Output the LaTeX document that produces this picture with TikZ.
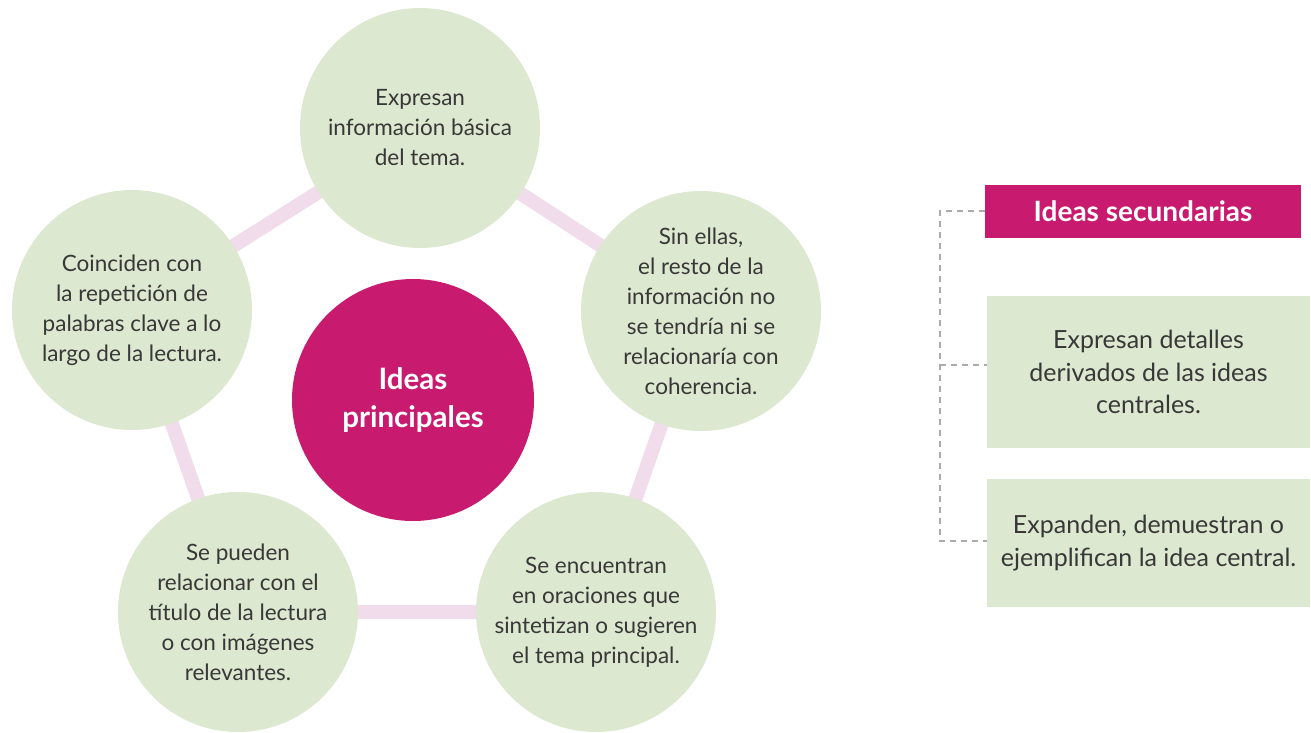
\documentclass[tikz,border=0pt]{standalone}
\usepackage{fontspec}
\setmainfont{Lato}
\definecolor{leaf}{HTML}{DCE8CF}
\definecolor{berry}{HTML}{C81A6E}
\definecolor{petal}{HTML}{F0DCEA}
\definecolor{ink}{HTML}{383838}
\definecolor{dashgray}{HTML}{ABABAB}
\begin{document}
\begin{tikzpicture}[x=1pt,y=-1pt,
  bubble/.style={circle,fill=leaf,minimum size=240pt,inner sep=0pt,align=center,text=ink,font=\fontsize{22.5}{30}\selectfont},
  hub/.style={circle,fill=berry,minimum size=242pt,inner sep=0pt,align=center,text=white,font=\fontsize{29.5}{38}\selectfont\bfseries},
  link/.style={petal,line width=14pt},
  tag/.style={rectangle,fill=berry,text=white,minimum width=316pt,minimum height=53pt,inner sep=0pt,font=\fontsize{28}{30}\selectfont\bfseries},
  card/.style={rectangle,fill=leaf,text=ink,align=center,minimum width=323pt,inner sep=0pt,font=\fontsize{25}{32.5}\selectfont},
  bracket/.style={dashgray,dashed,line width=1.6pt,dash pattern=on 6pt off 5pt}]
\useasboundingbox (0,0) rectangle (1311,733);
\coordinate (pt) at (420,128);
\coordinate (pr) at (701,311);
\coordinate (pbr) at (596,612);
\coordinate (pbl) at (238,612);
\coordinate (pl) at (132,310);
\draw[link] (pt) -- (pr) -- (pbr) -- (pbl) -- (pl) -- cycle;
\node[bubble] (top) at (pt) {Expresan\\información básica\\del tema.};
\node[bubble] (right) at (pr) {Sin ellas,\\el resto de la\\información no\\se tendría ni se\\relacionaría con\\coherencia.};
\node[bubble] (botright) at (pbr) {Se encuentran\\en oraciones que\\sintetizan o sugieren\\el tema principal.};
\node[bubble] (botleft) at (pbl) {Se pueden\\relacionar con el\\título de la lectura\\o con imágenes\\relevantes.};
\node[bubble] (left) at (pl) {Coinciden con\\la repetición de\\palabras clave a lo\\largo de la lectura.};
\node[hub] (center) at (413,400) {Ideas\\principales};
\node[tag] (sec) at (1143,211) {Ideas secundarias};
\node[card,minimum height=152pt] (c1) at (1148.5,372) {Expresan detalles\\derivados de las ideas\\centrales.};
\node[card,minimum height=128pt] (c2) at (1148.5,543) {Expanden, demuestran o\\ejemplifican la idea central.};
\coordinate (btop) at (940,211);
\coordinate (bmid) at (940,365);
\coordinate (bbot) at (940,541);
\draw[bracket] (sec.west) -- (btop) -- (bbot) -- (c2.west |- bbot);
\draw[bracket] (bmid) -- (c1.west |- bmid);
\end{tikzpicture}
\end{document}
